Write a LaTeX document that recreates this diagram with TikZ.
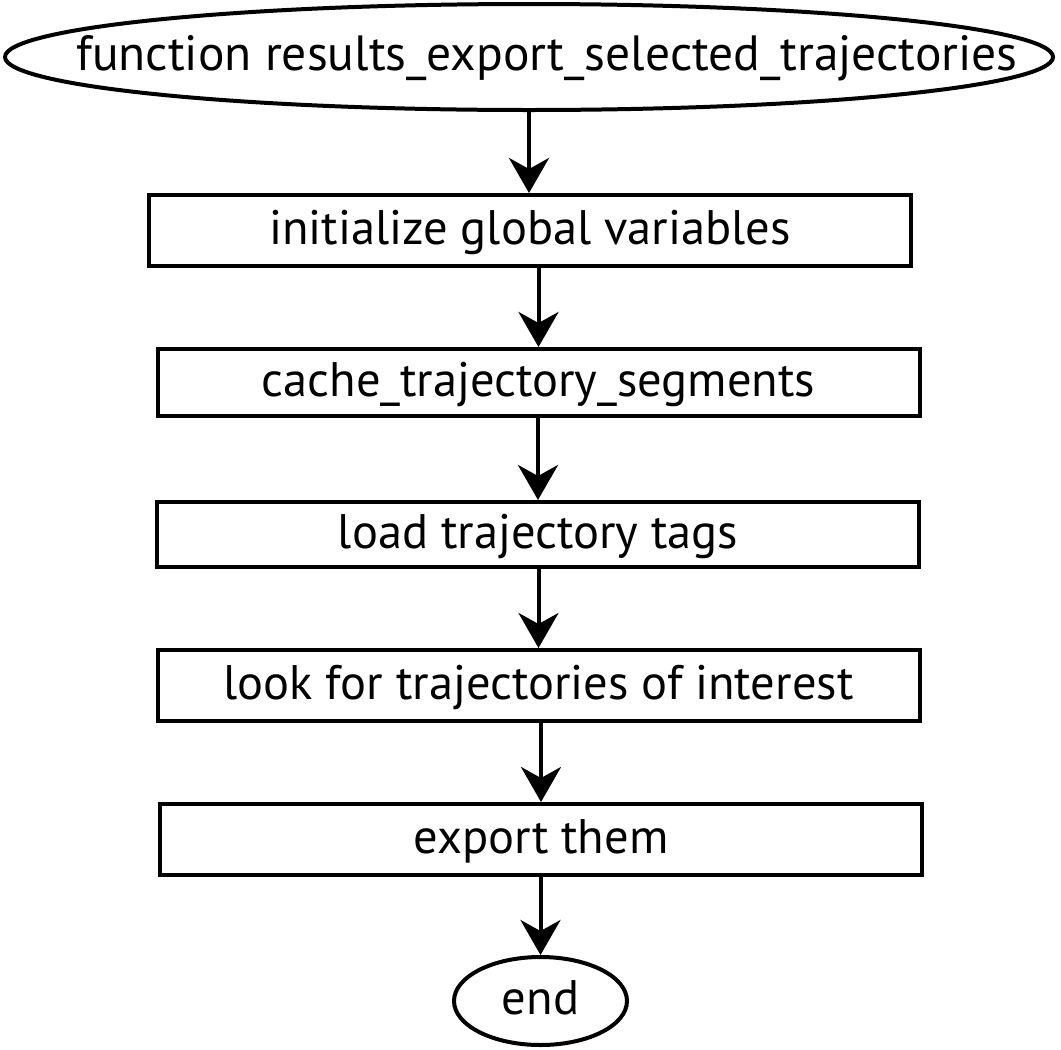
\documentclass[tikz,border=0pt]{standalone}
\usepackage{fontspec}
\setmainfont{PT Sans}
\usetikzlibrary{shapes.geometric,arrows.meta}
\tikzset{
  lbl/.style={font=\fontsize{48.5}{58}\selectfont, inner sep=0pt, text height=37pt, text depth=10pt},
  stepbox/.style={draw, line width=4pt, rectangle, lbl, minimum width=762pt, minimum height=69pt},
  term/.style={draw, line width=4pt, ellipse, inner sep=0pt},
  arr/.style={line width=4pt, -{Stealth[length=35pt, width=40pt, inset=11pt]}},
}
\begin{document}
\begin{tikzpicture}[x=1pt,y=-1pt]
\useasboundingbox (0,0) rectangle (1061,1050);
\node[term, minimum width=1048pt, minimum height=106pt] (top) at (529,57) {};
\node[lbl, font=\fontsize{49.5}{59}\selectfont] (toptext) at (547,57) {function results\_export\_selected\_trajectories};
\node[stepbox, minimum height=71pt] (b1) at (530,230.5) {initialize global variables};
\node[stepbox, minimum height=67pt] (b2) at (538.5,382.5) {cache\_trajectory\_segments};
\node[stepbox, minimum height=65pt] (b3) at (538,534.5) {load trajectory tags};
\node[stepbox, minimum height=71pt] (b4) at (538.5,685.5) {look for trajectories of interest};
\node[stepbox, minimum height=71pt] (b5) at (541,839.5) {export them};
\node[term, lbl, minimum width=173pt, minimum height=88pt] (end) at (540.5,1001) {end};
\draw[arr] (top.south) -- (top.south |- b1.north);
\draw[arr] (b1.south -| b2.north) -- (b2.north);
\draw[arr] (b2.south -| b3.north) -- (b3.north);
\draw[arr] (b3.south -| b4.north) -- (b4.north);
\draw[arr] (b4.south -| b5.north) -- (b5.north);
\draw[arr] (b5.south -| end.north) -- (end.north);
\end{tikzpicture}
\end{document}
